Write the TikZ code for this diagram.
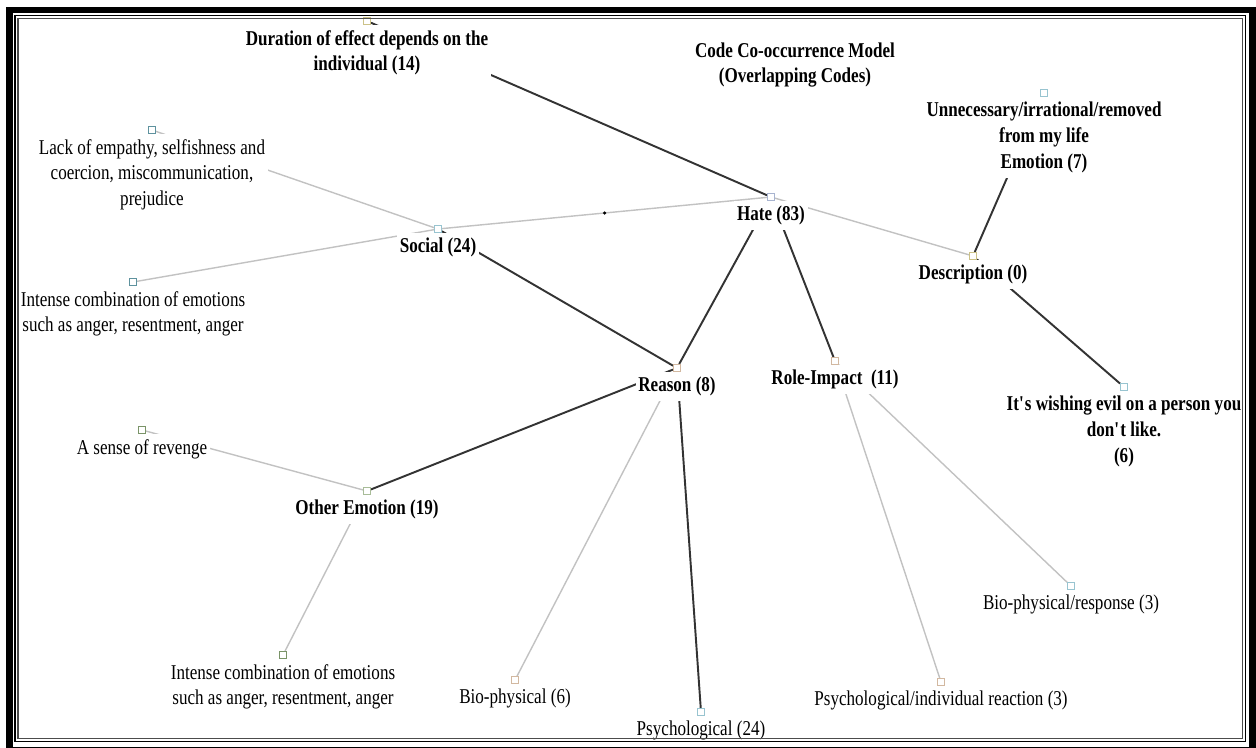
\documentclass[tikz,border=0pt]{standalone}
\usepackage{fontspec}
\setmainfont{Liberation Serif}[FakeStretch=0.81]
\usetikzlibrary{positioning, backgrounds}
\definecolor{tan}{HTML}{D2B8A0}
\definecolor{sand}{HTML}{CCC288}
\definecolor{sky}{HTML}{98C4D0}
\definecolor{teal}{HTML}{5E929E}
\definecolor{lilac}{HTML}{A8B4D0}
\definecolor{olive}{HTML}{7A9468}
\definecolor{sage}{HTML}{A8BC98}
\tikzset{
    my-marker/.style={
        draw=#1, fill=white, shape=rectangle, minimum size=0.13cm, inner sep=0pt, line width=0.8pt
    },
    my-code/.style={
        fill=white, inner xsep=1.5pt, inner ysep=2.8pt, align=center, font=\fontsize{12}{14.7}\selectfont
    },
    my-bold/.style={
        my-code, font=\fontsize{12}{14.7}\selectfont\bfseries
    },
    my-strong/.style={
        draw=black!80, line width=1.1pt
    },
    my-weak/.style={
        draw=black!24, line width=0.8pt
    },
    my-dot/.style={
        fill=black, shape=circle, minimum size=0.07cm, inner sep=0pt
    },
}

\begin{document}
\begin{tikzpicture}[x=0.02cm, y=-0.02cm]

        \useasboundingbox (0,0) rectangle (1256,747);

        % TITLE
        \node[my-bold] (TITLE) at (795,65) {Code Co-occurrence Model\\(Overlapping Codes)};

        % HATE AND ITS DIRECT CODES
        \node[my-marker=lilac] (HATE) at (771,197) {};
        \node[my-bold, below=0pt of HATE] (HATELBL) {Hate (83)};

        \node[my-marker=sand] (DUR) at (367,21) {};
        \node[my-bold, below=0pt of DUR] (DURLBL) {Duration of effect depends on the\\individual (14)};

        \node[my-marker=sky] (SOC) at (438,229) {};
        \node[my-bold, below=0pt of SOC] (SOCLBL) {Social (24)};

        \node[my-marker=sand] (DESC) at (973,256) {};
        \node[my-bold, below=0pt of DESC] (DESCLBL) {Description (0)};

        \node[my-marker=tan] (REA) at (677,368) {};
        \node[my-bold, below=0pt of REA] (REALBL) {Reason (8)};

        \node[my-marker=tan] (ROLE) at (835,361) {};
        \node[my-bold, below=0pt of ROLE] (ROLELBL) {Role-Impact~~(11)};

        % SOCIAL CODES
        \node[my-marker=teal] (LACK) at (152,130) {};
        \node[my-code, below=0pt of LACK] (LACKLBL) {Lack of empathy, selfishness and\\coercion, miscommunication,\\prejudice};

        \node[my-marker=teal] (INT1) at (133,282) {};
        \node[my-code, below=0pt of INT1] (INT1LBL) {Intense combination of emotions\\such as anger, resentment, anger};

        % DESCRIPTION CODES
        \node[my-marker=sky] (UNN) at (1044,93) {};
        \node[my-bold, below=0pt of UNN] (UNNLBL) {Unnecessary/irrational/removed\\from my life\\Emotion (7)};

        \node[my-marker=sky] (EVIL) at (1124,387) {};
        \node[my-bold, below=0pt of EVIL] (EVILLBL) {It\textquotesingle s wishing evil on a person you\\don\textquotesingle t like.\\(6)};

        % REASON CODES
        \node[my-marker=sage] (OTH) at (367,491) {};
        \node[my-bold, below=0pt of OTH] (OTHLBL) {Other Emotion (19)};

        \node[my-marker=tan] (BIO) at (515,680) {};
        \node[my-code, below=0pt of BIO] (BIOLBL) {Bio-physical (6)};

        \node[my-marker=sky] (PSY) at (701,712) {};
        \node[my-code, below=0pt of PSY] (PSYLBL) {Psychological (24)};

        % OTHER EMOTION CODES
        \node[my-marker=olive] (REV) at (142,430) {};
        \node[my-code, below=0pt of REV] (REVLBL) {A sense of revenge};

        \node[my-marker=olive] (INT2) at (283,655) {};
        \node[my-code, below=0pt of INT2] (INT2LBL) {Intense combination of emotions\\such as anger, resentment, anger};

        % ROLE-IMPACT CODES
        \node[my-marker=tan] (PSI) at (941,682) {};
        \node[my-code, below=0pt of PSI] (PSILBL) {Psychological/individual reaction (3)};

        \node[my-marker=sky] (BIR) at (1071,586) {};
        \node[my-code, below=0pt of BIR] (BIRLBL) {Bio-physical/response (3)};

        % LINKS BEHIND THE LABELS
        \begin{scope}[on background layer]
            \draw[my-strong] (DUR)  -- (HATE);
            \draw[my-weak]   (SOC)  -- node[my-dot] (MID) {} (HATE);
            \draw[my-weak]   (HATE) -- (DESC);
            \draw[my-strong] (HATE) -- (REA);
            \draw[my-strong] (HATE) -- (ROLE);
            \draw[my-weak]   (LACK) -- (SOC);
            \draw[my-weak]   (INT1) -- (SOC);
            \draw[my-strong] (SOC)  -- (REA);
            \draw[my-strong] (UNN)  -- (DESC);
            \draw[my-strong] (DESC) -- (EVIL);
            \draw[my-strong] (REA)  -- (OTH);
            \draw[my-weak]   (REA)  -- (BIO);
            \draw[my-strong] (REA)  -- (PSY);
            \draw[my-weak]   (REV)  -- (OTH);
            \draw[my-weak]   (OTH)  -- (INT2);
            \draw[my-weak]   (ROLE) -- (PSI);
            \draw[my-weak]   (ROLE) -- (BIR);
        \end{scope}

        % FRAME
        \draw[line width=0.14cm] (9.5,10) rectangle (1252,750.5);
        \draw[line width=0.03cm] (15,15.5) rectangle (1245.5,741.5);
        \draw[line width=0.025cm, black!70] (18,18.5) rectangle (1242.5,738.5);

    \end{tikzpicture}
\end{document}
